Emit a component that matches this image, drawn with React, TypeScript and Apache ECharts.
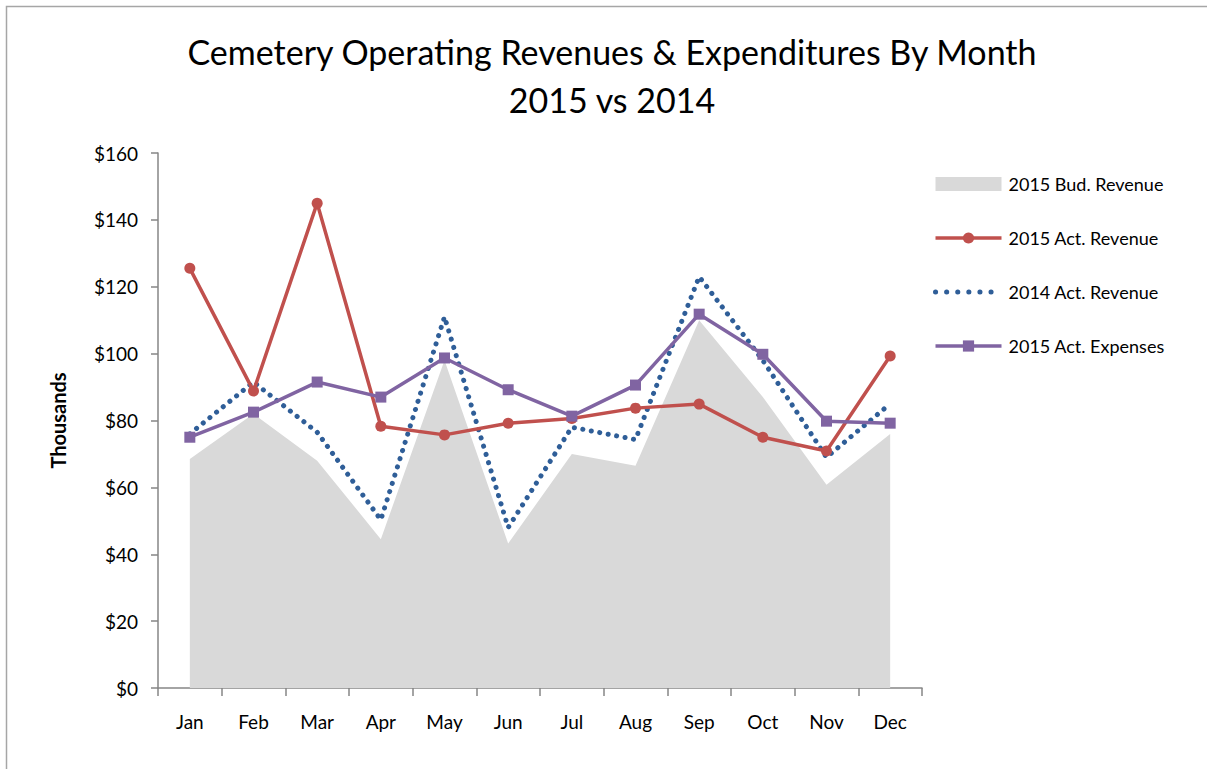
import React, { useEffect, useRef } from "react";
import * as echarts from "echarts";

const months = ["Jan", "Feb", "Mar", "Apr", "May", "Jun", "Jul", "Aug", "Sep", "Oct", "Nov", "Dec"];
const budRevenue2015 = [68.5, 82, 68, 44.5, 98, 43.2, 70, 66.5, 110, 87, 60.8, 76];
const actRevenue2015 = [125.5, 88.8, 145, 78.3, 75.7, 79.2, 80.6, 83.7, 84.9, 75, 70.9, 99.3];
const actRevenue2014 = [76, 91.5, 76.5, 50.3, 111, 48, 78, 74.3, 123, 98, 69, 85];
const actExpenses2015 = [75, 82.5, 91.5, 87, 98.7, 89.2, 81.3, 90.6, 111.8, 99.8, 79.8, 79.2];
const yTicks = [0, 20, 40, 60, 80, 100, 120, 140, 160];

const FONT = "Lato, 'Open Sans', sans-serif";

export default function App() {
  const ref = useRef<HTMLDivElement>(null);
  useEffect(() => {
    document.body.style.margin = "0";
    const chart = echarts.init(ref.current!, null, { renderer: "svg" });
    chart.setOption({
      animation: false,
      backgroundColor: "#ffffff",
      textStyle: { fontFamily: FONT },
      graphic: [
        {
          type: "rect",
          shape: { x: 6.5, y: 6.5, width: 1250, height: 800 },
          style: { fill: "none", stroke: "#a6a6a6", lineWidth: 1.5 },
          silent: true,
        },
      ],
      title: {
        text: "Cemetery Operating Revenues & Expenditures By Month\n2015 vs 2014",
        left: 607,
        textAlign: "center",
        top: 22,
        textStyle: { fontFamily: FONT, fontSize: 34, fontWeight: "normal", color: "#000", lineHeight: 48 },
      },
      legend: {
        orient: "vertical",
        left: 928,
        top: 170,
        itemWidth: 66,
        itemHeight: 14,
        itemGap: 36,
        textStyle: { fontFamily: FONT, fontSize: 18, color: "#000", padding: [0, 0, 0, 2] },
        data: [
          { name: "2015 Bud. Revenue", icon: "rect", itemStyle: { color: "#D9D9D9" } },
          { name: "2015 Act. Revenue", lineStyle: { width: 3.5 } },
          {
            name: "2014 Act. Revenue",
            itemStyle: { opacity: 0 },
            lineStyle: { width: 5, type: [0.1, 11], cap: "round", color: "#2F5E98" },
          },
          { name: "2015 Act. Expenses", lineStyle: { width: 3.5 } },
        ],
      },
      grid: { left: 158, right: 285, top: 153, bottom: 81 },
      xAxis: {
        type: "category",
        data: months,
        boundaryGap: true,
        axisLine: { lineStyle: { color: "#868686", width: 1.5 } },
        axisTick: { show: true, length: 8, alignWithLabel: false, lineStyle: { color: "#868686", width: 1.5 } },
        axisLabel: { margin: 24, fontFamily: FONT, fontSize: 19, color: "#000", interval: 0 },
      },
      yAxis: {
        type: "value",
        min: yTicks[0],
        max: yTicks[yTicks.length - 1],
        interval: 20,
        name: "Thousands",
        nameLocation: "middle",
        nameGap: 90,
        nameRotate: 90,
        nameTextStyle: { fontFamily: FONT, fontSize: 20, fontWeight: "bold", color: "#000" },
        axisLine: { show: true, lineStyle: { color: "#868686", width: 1.5 } },
        axisTick: { show: true, length: 7, lineStyle: { color: "#868686", width: 1.5 } },
        splitLine: { show: false },
        axisLabel: { margin: 20, fontFamily: FONT, fontSize: 19, color: "#000", formatter: (v: number) => "$" + v },
      },
      series: [
        {
          name: "2015 Bud. Revenue",
          type: "line",
          data: budRevenue2015,
          symbol: "none",
          lineStyle: { width: 0, color: "#D9D9D9" },
          itemStyle: { color: "#D9D9D9" },
          areaStyle: { color: "#D9D9D9", opacity: 1 },
          z: 1,
        },
        {
          name: "2015 Act. Revenue",
          type: "line",
          data: actRevenue2015,
          symbol: "circle",
          symbolSize: 11,
          lineStyle: { width: 3.5, color: "#C0504D" },
          itemStyle: { color: "#C0504D" },
          z: 3,
        },
        {
          name: "2014 Act. Revenue",
          type: "line",
          data: actRevenue2014,
          symbol: "none",
          lineStyle: { width: 5, color: "#2F5E98", type: [0.1, 8.5], cap: "round" },
          itemStyle: { color: "#2F5E98" },
          z: 2,
        },
        {
          name: "2015 Act. Expenses",
          type: "line",
          data: actExpenses2015,
          symbol: "rect",
          symbolSize: 11,
          lineStyle: { width: 3.5, color: "#8064A2" },
          itemStyle: { color: "#8064A2" },
          z: 4,
        },
      ],
    });
    return () => chart.dispose();
  }, []);
  return <div ref={ref} style={{ width: 1207, height: 769 }} />;
}
